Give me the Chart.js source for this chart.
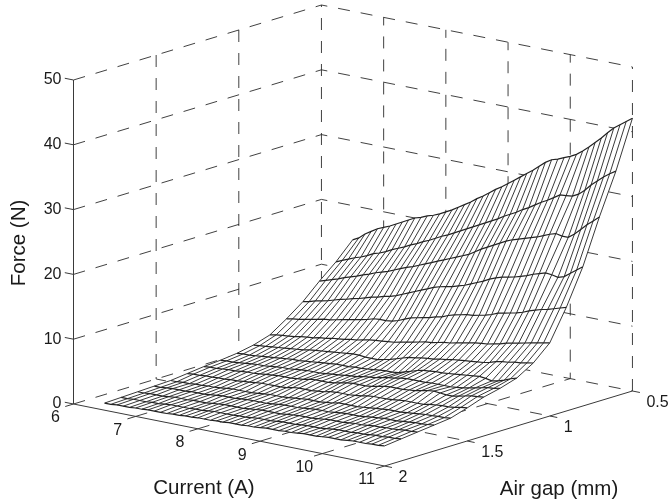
<!DOCTYPE html>
<html>
<head>
<meta charset="utf-8">
<title>Force surface</title>
<script src="https://cdn.jsdelivr.net/npm/chart.js@4/dist/chart.umd.min.js"></script>
<style>
  html, body { margin: 0; padding: 0; background: #fff; }
  canvas { display: block; }
</style>
</head>
<body>
<canvas id="surface-chart" width="670" height="503"></canvas>
<script>
var currentTicks = [6, 7, 8, 9, 10, 11];
var gapTicks = [0.5, 1, 1.5, 2];
var forceTicks = [0, 10, 20, 30, 40, 50];

var currents = [6.5, 6.6, 6.7, 6.8, 6.9, 7, 7.1, 7.2, 7.3, 7.4, 7.5, 7.6, 7.7, 7.8, 7.9, 8, 8.1, 8.2, 8.3, 8.4, 8.5, 8.6, 8.7,
  8.8, 8.9, 9, 9.1, 9.2, 9.3, 9.4, 9.5, 9.6, 9.7, 9.8, 9.9, 10, 10.1, 10.2, 10.3, 10.4, 10.5, 10.6, 10.7, 10.8, 10.9, 11];
var gaps = [0.5, 0.6, 0.7, 0.8, 0.9, 1, 1.1, 1.2, 1.3, 1.4, 1.5, 1.6, 1.7, 1.8, 1.9, 2];

// force (N) along each air gap, one value per current
var force05 = [14.7, 15.2, 16.0, 16.6, 17.2, 17.6, 18.0, 18.5, 19.0, 19.5, 20.0, 20.3, 20.7, 21.0, 21.4, 21.9, 22.4, 23.0, 23.6, 24.2, 24.9, 25.5, 26.2, 26.9, 27.5, 28.2, 28.9, 29.6, 30.3, 31.0, 31.8, 32.6, 33.2, 33.5, 33.9, 34.3, 34.8, 35.5, 36.3, 37.2, 38.1, 39.1, 40.0, 40.7, 41.4, 42.1];
var force06 = [12.1, 12.5, 12.9, 13.3, 13.6, 14.0, 14.5, 14.8, 15.2, 15.7, 16.1, 16.5, 17.0, 17.4, 17.9, 18.3, 18.8, 19.3, 19.7, 20.2, 20.7, 21.2, 21.7, 22.2, 22.7, 23.2, 23.7, 24.3, 24.8, 25.3, 25.9, 26.4, 27.0, 27.6, 28.1, 28.7, 29.3, 29.4, 29.5, 30.0, 30.8, 31.8, 32.6, 33.4, 34.1, 34.7];
var force07 = [9.9, 10.2, 10.5, 10.8, 11.2, 11.5, 11.8, 12.2, 12.5, 12.9, 13.2, 13.5, 13.9, 14.3, 14.7, 15.0, 15.4, 15.8, 16.2, 16.6, 17.0, 17.4, 17.8, 18.2, 18.6, 19.2, 19.8, 20.3, 20.8, 21.3, 21.8, 22.2, 22.5, 22.8, 23.1, 23.4, 23.8, 24.2, 24.5, 24.3, 24.3, 25.0, 25.9, 26.8, 27.6, 28.4];
var force08 = [7.5, 7.7, 8.0, 8.2, 8.4, 8.7, 9.0, 9.2, 9.5, 9.7, 10.0, 10.3, 10.5, 10.8, 11.0, 11.3, 11.7, 12.1, 12.5, 12.9, 13.3, 13.7, 14.0, 14.2, 14.4, 14.7, 15.0, 15.4, 15.8, 16.2, 16.7, 17.1, 17.4, 17.6, 17.8, 18.1, 18.4, 18.8, 19.1, 19.4, 19.3, 19.1, 19.4, 20.1, 20.8, 21.5];
var force09 = [5.6, 5.8, 5.9, 6.1, 6.3, 6.5, 6.7, 6.8, 7.0, 7.2, 7.4, 7.6, 7.8, 8.0, 8.3, 8.4, 8.4, 8.5, 8.8, 9.2, 9.6, 9.8, 10.0, 10.2, 10.5, 10.7, 11.1, 11.4, 11.6, 11.8, 11.9, 12.1, 12.3, 12.6, 13.0, 13.2, 13.4, 13.6, 13.9, 14.3, 14.6, 14.9, 15.1, 15.4, 15.7, 16.0];
var force10 = [3.9, 4.1, 4.2, 4.3, 4.4, 4.6, 4.7, 4.8, 5.0, 5.1, 5.3, 5.4, 5.5, 5.7, 5.8, 6.0, 6.2, 6.3, 6.4, 6.5, 6.6, 6.8, 7.0, 7.2, 7.4, 7.6, 7.7, 7.9, 8.1, 8.2, 8.4, 8.6, 8.8, 9.0, 9.1, 9.2, 9.4, 9.6, 9.9, 10.1, 10.3, 10.5, 10.7, 10.9, 11.1, 11.3];
var force11 = [3.1, 3.2, 3.3, 3.4, 3.5, 3.6, 3.7, 3.8, 3.9, 4.1, 4.2, 4.3, 4.4, 4.5, 4.6, 4.7, 4.8, 4.8, 4.7, 4.7, 4.7, 4.9, 5.1, 5.4, 5.7, 6.0, 6.1, 6.3, 6.4, 6.5, 6.7, 6.8, 7.0, 7.1, 7.2, 7.3, 7.4, 7.5, 7.7, 8.0, 8.2, 8.3, 8.5, 8.6, 8.8, 8.95];
var force12 = [2.6, 2.7, 2.7, 2.8, 2.9, 3.0, 3.1, 3.2, 3.3, 3.4, 3.4, 3.5, 3.6, 3.7, 3.8, 3.9, 4.0, 4.0, 4.0, 4.1, 4.1, 4.2, 4.3, 4.4, 4.5, 4.5, 4.6, 4.9, 5.2, 5.5, 5.7, 5.8, 5.9, 5.9, 6.0, 6.1, 6.2, 6.3, 6.4, 6.5, 6.4, 6.2, 6.4, 6.7, 7.1, 7.4];
var force13 = [2.3, 2.4, 2.4, 2.5, 2.6, 2.7, 2.8, 2.8, 2.9, 3.0, 3.1, 3.1, 3.2, 3.3, 3.4, 3.4, 3.4, 3.5, 3.6, 3.7, 3.8, 3.9, 4.0, 4.2, 4.3, 4.4, 4.6, 4.8, 4.9, 5.1, 5.2, 5.2, 5.2, 5.2, 5.3, 5.3, 5.3, 5.3, 5.4, 5.5, 5.7, 5.9, 6.1, 6.3, 6.4, 6.6];
var force14 = [2.1, 2.2, 2.2, 2.3, 2.4, 2.4, 2.5, 2.6, 2.6, 2.7, 2.8, 2.9, 3.0, 3.0, 3.0, 3.1, 3.2, 3.4, 3.5, 3.5, 3.5, 3.6, 3.8, 4.0, 4.1, 4.1, 4.1, 4.2, 4.4, 4.6, 4.7, 4.7, 4.7, 4.8, 4.9, 5.1, 5.3, 5.4, 5.3, 5.2, 5.2, 5.4, 5.6, 5.8, 5.9, 6.0];
var force15 = [1.8, 1.9, 1.9, 2.0, 2.0, 2.1, 2.1, 2.2, 2.2, 2.3, 2.4, 2.5, 2.6, 2.6, 2.6, 2.6, 2.7, 2.9, 3.0, 3.0, 3.0, 3.1, 3.2, 3.4, 3.5, 3.5, 3.5, 3.6, 3.7, 3.9, 4.0, 4.0, 4.0, 4.1, 4.2, 4.3, 4.3, 4.3, 4.3, 4.5, 4.6, 4.7, 4.7, 4.8, 5.0, 5.1];
var force16 = [1.5, 1.5, 1.6, 1.6, 1.7, 1.7, 1.8, 1.8, 1.9, 2.0, 2.1, 2.1, 2.1, 2.1, 2.2, 2.3, 2.4, 2.4, 2.4, 2.5, 2.6, 2.7, 2.8, 2.8, 2.8, 2.9, 3.0, 3.2, 3.2, 3.2, 3.2, 3.3, 3.4, 3.5, 3.6, 3.7, 3.7, 3.7, 3.8, 3.9, 4.0, 4.1, 4.1, 4.2, 4.2, 4.3];
var force17 = [1.4, 1.4, 1.5, 1.6, 1.6, 1.6, 1.7, 1.7, 1.7, 1.8, 1.9, 2.0, 2.0, 2.0, 2.1, 2.2, 2.2, 2.2, 2.2, 2.3, 2.4, 2.5, 2.5, 2.5, 2.6, 2.7, 2.8, 2.8, 2.8, 2.9, 3.0, 3.1, 3.1, 3.1, 3.2, 3.3, 3.4, 3.5, 3.5, 3.5, 3.6, 3.7, 3.8, 3.8, 3.9, 4.0];
var force18 = [1.3, 1.3, 1.4, 1.4, 1.4, 1.5, 1.6, 1.6, 1.6, 1.7, 1.7, 1.7, 1.8, 1.9, 2.0, 2.0, 2.0, 2.0, 2.1, 2.2, 2.3, 2.3, 2.3, 2.3, 2.4, 2.5, 2.6, 2.6, 2.6, 2.7, 2.8, 2.9, 2.9, 2.9, 3.0, 3.1, 3.1, 3.2, 3.3, 3.3, 3.4, 3.4, 3.5, 3.6, 3.6, 3.7];
var force19 = [1.2, 1.2, 1.3, 1.3, 1.3, 1.4, 1.4, 1.5, 1.6, 1.6, 1.6, 1.6, 1.7, 1.7, 1.8, 1.9, 1.9, 1.9, 1.9, 2.0, 2.0, 2.1, 2.2, 2.2, 2.2, 2.3, 2.4, 2.4, 2.4, 2.5, 2.6, 2.6, 2.6, 2.7, 2.8, 2.9, 2.9, 2.9, 3.0, 3.0, 3.1, 3.2, 3.2, 3.3, 3.3, 3.4];
var force20 = [1.1, 1.1, 1.2, 1.2, 1.2, 1.3, 1.3, 1.4, 1.4, 1.4, 1.4, 1.5, 1.5, 1.6, 1.6, 1.7, 1.7, 1.7, 1.8, 1.8, 1.9, 1.9, 1.9, 2.0, 2.0, 2.1, 2.2, 2.2, 2.2, 2.3, 2.3, 2.4, 2.5, 2.5, 2.5, 2.6, 2.7, 2.7, 2.7, 2.8, 2.9, 2.9, 2.9, 3.0, 3.0, 3.1];
var forceByGap = [force05, force06, force07, force08, force09, force10, force11, force12, force13, force14, force15, force16, force17, force18, force19, force20];

// fixed view of the 3d box, in canvas pixels
function project(current, gap, force) {
  return {
    x: 73.5 + (current - 6) * 62.2 + (2 - gap) * 165.3,
    y: 404 + (current - 6) * 12.4 - (2 - gap) * 50 - force * 6.48
  };
}

var gapBreak = { x: NaN, y: NaN };
var datasets = [];

function addLine(points, color, width, dash) {
  datasets.push({
    data: points,
    showLine: true,
    borderColor: color,
    borderWidth: width,
    borderDash: dash || [],
    pointRadius: 0,
    fill: false
  });
}

// box grid
var gridDash = [12, 11];
var gridColor = '#2b2b2b';
forceTicks.forEach(function (f) {
  addLine([project(6, 2, f), project(6, 0.5, f), project(11, 0.5, f)], gridColor, 0.9, gridDash);
});
currentTicks.forEach(function (c) {
  if (c !== 11 && c !== 6) {
    addLine([project(c, 2, 0), project(c, 0.5, 0), project(c, 0.5, 50)], gridColor, 0.9, gridDash);
  }
});
gapTicks.forEach(function (g) {
  if (g !== 0.5 && g !== 2) {
    addLine([project(6, g, 50), project(6, g, 0), project(11, g, 0)], gridColor, 0.9, gridDash);
  }
});
addLine([project(6, 0.5, 0), project(6, 0.5, 50)], gridColor, 0.9, gridDash);
addLine([project(11, 0.5, 0), project(11, 0.5, 50)], gridColor, 0.9, gridDash);

// solid axes and their ticks
var axisColor = '#3a3a3a';
addLine([project(6, 2, 50), project(6, 2, 0), project(11, 2, 0), project(11, 0.5, 0)], axisColor, 1);
forceTicks.forEach(function (f) {
  addLine([project(6, 2, f), project(5.86, 2, f)], axisColor, 1);
});
currentTicks.forEach(function (c) {
  addLine([project(c, 2, 0), project(c, 2.05, 0)], axisColor, 1);
});
gapTicks.forEach(function (g) {
  addLine([project(11, g, 0), project(11.12, g, 0)], axisColor, 1);
});

// surface, painted strip by strip from the back gap to the front gap
for (var g = 0; g < gaps.length - 1; g++) {
  var backRow = [];
  var frontRow = [];
  var hatch = [];
  for (var c = 0; c < currents.length; c++) {
    var back = project(currents[c], gaps[g], forceByGap[g][c]);
    var front = project(currents[c], gaps[g + 1], forceByGap[g + 1][c]);
    backRow.push(back);
    frontRow.push(front);
    hatch.push(back, front, gapBreak);
  }
  datasets.push({
    data: backRow.concat(frontRow.slice().reverse()),
    showLine: true,
    borderWidth: 0,
    borderColor: 'rgba(0,0,0,0)',
    backgroundColor: '#ffffff',
    pointRadius: 0,
    fill: 'shape'
  });
  addLine(hatch, '#2e2e2e', 0.95);
  addLine(backRow, '#222222', 1.2);
  if (g === gaps.length - 2) {
    addLine(frontRow, '#222222', 1.2);
  }
}

// later datasets go on top
datasets.forEach(function (d, i) {
  d.order = datasets.length - i;
});

var labelPlugin = {
  id: 'axisLabels',
  afterDraw: function (chart) {
    var ctx = chart.ctx;
    var xs = chart.scales.x;
    var ys = chart.scales.y;
    function put(text, x, y, align) {
      ctx.textAlign = align;
      ctx.fillText(text, x, y);
    }
    ctx.save();
    ctx.fillStyle = '#1a1a1a';
    ctx.textBaseline = 'middle';
    ctx.font = '16px "Liberation Sans", Arial, sans-serif';
    forceTicks.forEach(function (f) {
      var p = project(6, 2, f);
      put(String(f), xs.getPixelForValue(p.x) - 12, ys.getPixelForValue(p.y), 'right');
    });
    currentTicks.forEach(function (c) {
      var p = project(c, 2, 0);
      put(String(c), xs.getPixelForValue(p.x) - 18, ys.getPixelForValue(p.y) + 14, 'center');
    });
    gapTicks.forEach(function (g) {
      var p = project(11, g, 0);
      put(String(g), xs.getPixelForValue(p.x) + 14, ys.getPixelForValue(p.y) + 12, 'left');
    });
    ctx.font = '20.5px "Liberation Sans", Arial, sans-serif';
    put('Current (A)', 204, 488, 'center');
    put('Air gap (mm)', 559, 489, 'center');
    ctx.translate(19, 243);
    ctx.rotate(-Math.PI / 2);
    put('Force (N)', 0, 0, 'center');
    ctx.restore();
  }
};

new Chart(document.getElementById('surface-chart'), {
  type: 'scatter',
  data: { datasets: datasets },
  options: {
    responsive: false,
    animation: false,
    clip: false,
    layout: { padding: 0 },
    plugins: { legend: { display: false }, tooltip: { enabled: false } },
    scales: {
      x: { type: 'linear', display: false, min: 0, max: 670 },
      y: { type: 'linear', display: false, min: 0, max: 503, reverse: true }
    }
  },
  plugins: [labelPlugin]
});
</script>
</body>
</html>
